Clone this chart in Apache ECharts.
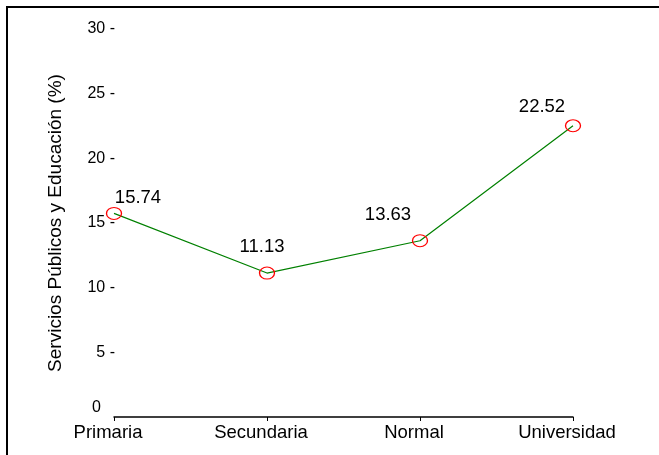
<!DOCTYPE html>
<html>
<head>
<meta charset="utf-8">
<script src="https://cdn.jsdelivr.net/npm/echarts@6/dist/echarts.min.js"></script>
<style>
html,body{margin:0;padding:0;background:#fff;}
#chart{width:659px;height:455px;}
</style>
</head>
<body>
<div id="chart"></div>
<script>
const categories = ['Primaria', 'Secundaria', 'Normal', 'Universidad'];
const values = [15.74, 11.13, 13.63, 22.52];
const yTicks = [0, 5, 10, 15, 20, 25, 30];
const yAxisTitle = 'Servicios Públicos y Educación (%)';
const labelOffsets = [[24, -16], [-5, -26], [-32, -26], [-31, -19]];

const FONT = '"Liberation Sans", Arial, sans-serif';
const chart = echarts.init(document.getElementById('chart'), null, {renderer: 'canvas'});

chart.setOption({
  animation: false,
  backgroundColor: '#ffffff',
  grid: {left: 114, right: 86, top: 29, bottom: 38, containLabel: false},
  graphic: [{
    type: 'polyline',
    shape: {points: [[7, 455], [7, 7], [659, 7]]},
    style: {stroke: '#000', lineWidth: 2, fill: null},
    silent: true
  }],
  xAxis: {
    type: 'category',
    data: categories,
    boundaryGap: false,
    axisLine: {show: true, lineStyle: {color: '#000', width: 1.5}},
    axisTick: {show: true, length: 4, lineStyle: {color: '#000', width: 1}},
    axisLabel: {
      color: '#000', fontFamily: FONT, fontSize: 18.5, margin: 6,
      padding: [0, 12, 0, 0], interval: 0
    },
    splitLine: {show: false}
  },
  yAxis: {
    type: 'value',
    min: yTicks[0],
    max: yTicks[yTicks.length - 1],
    interval: yTicks[1] - yTicks[0],
    name: yAxisTitle,
    nameLocation: 'middle',
    nameGap: 49,
    nameRotate: 90,
    nameTextStyle: {color: '#000', fontFamily: FONT, fontSize: 19},
    axisLine: {show: false},
    axisTick: {show: false},
    splitLine: {show: false},
    axisLabel: {
      color: '#000', fontFamily: FONT, fontSize: 16, margin: -1,
      formatter: function (v) { return v === 0 ? '{z|0}' : v + ' -'; },
      rich: {z: {color: '#000', fontFamily: FONT, fontSize: 16, padding: [0, 14, 18, 0]}}
    }
  },
  series: [{
    type: 'line',
    data: values.map(function (v, i) {
      return {
        value: v,
        label: {offset: labelOffsets[i]}
      };
    }),
    symbol: 'circle',
    symbolSize: [15, 12],
    showAllSymbol: true,
    lineStyle: {color: '#008000', width: 1.2},
    itemStyle: {color: 'rgba(0,0,0,0)', borderColor: '#ff0000', borderWidth: 1.2},
    label: {
      show: true,
      position: 'inside',
      align: 'center',
      verticalAlign: 'middle',
      color: '#000',
      fontFamily: FONT,
      fontSize: 18.5,
      formatter: function (p) { return p.value.toFixed(2); }
    },
    emphasis: {disabled: true},
    z: 3
  }]
});
</script>
</body>
</html>
